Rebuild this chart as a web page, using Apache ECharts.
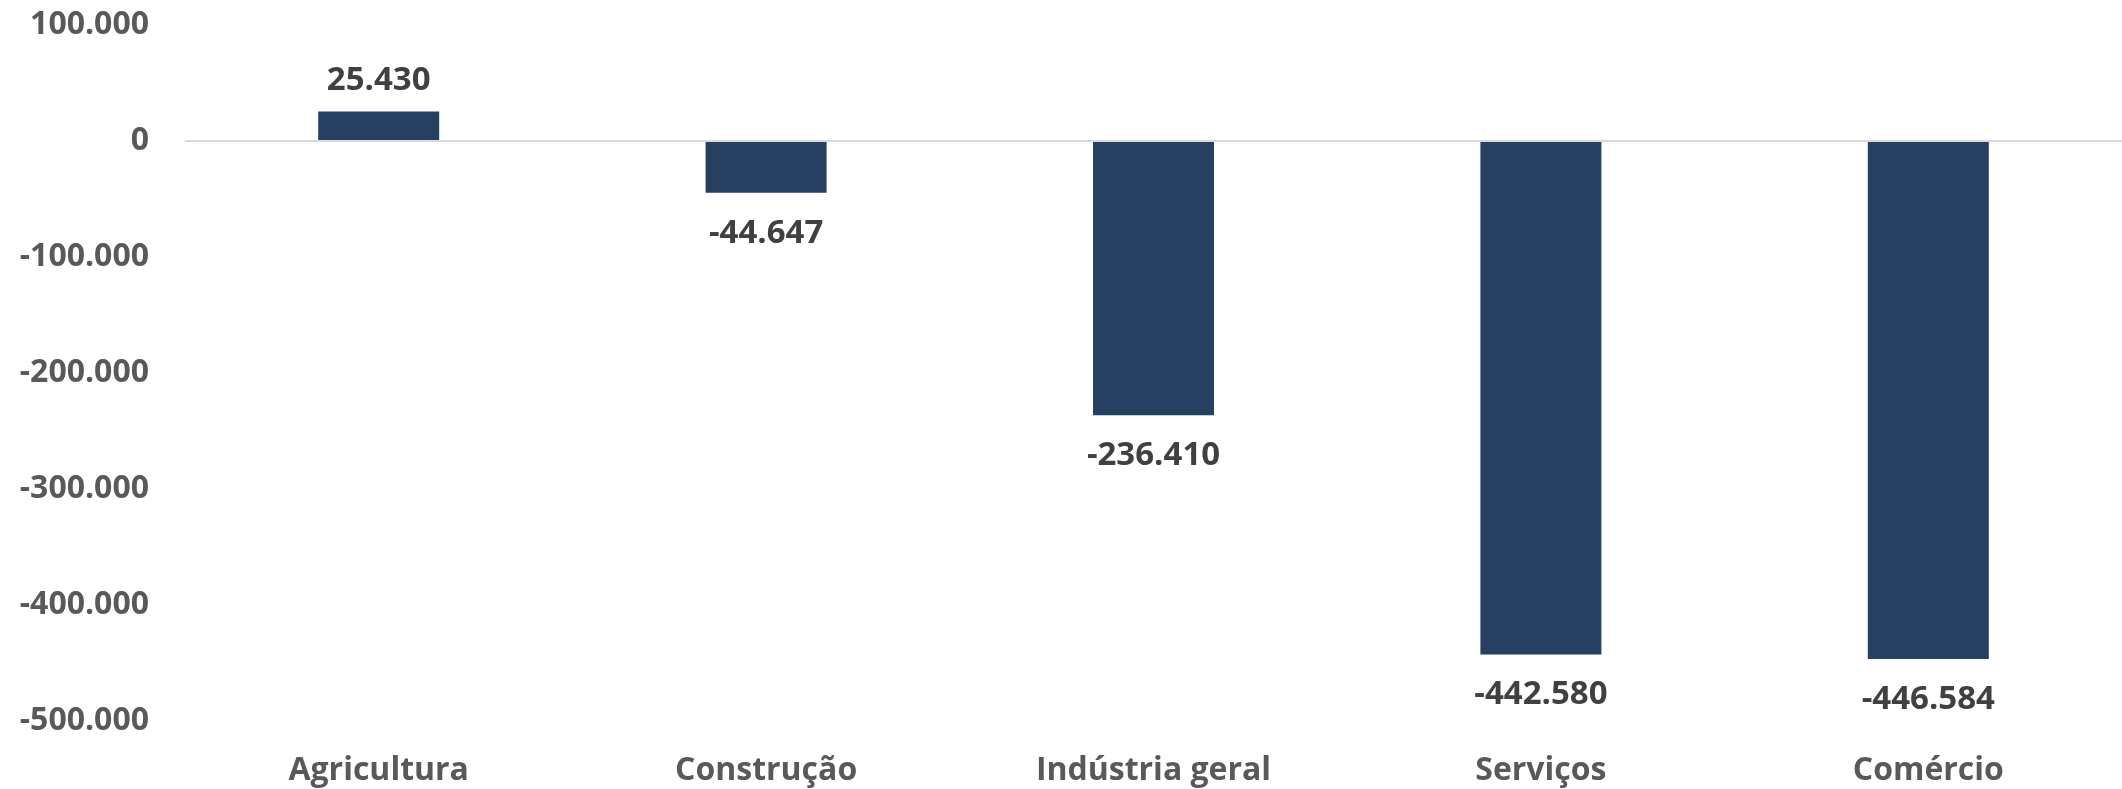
<!DOCTYPE html>
<html>
<head>
<meta charset="utf-8">
<script src="https://cdn.jsdelivr.net/npm/echarts@6/dist/echarts.min.js"></script>
<style>
html,body{margin:0;padding:0;background:#fff;}
#chart{width:2122px;height:789px;}
</style>
</head>
<body>
<div id="chart"></div>
<script>
const categories = ['Agricultura', 'Construção', 'Indústria geral', 'Serviços', 'Comércio'];
const values = [25430, -44647, -236410, -442580, -446584];
const yMin = -500000;
const yMax = 100000;
const yStep = 100000;

function fmt(v) {
  const s = Math.abs(Math.round(v)).toString().replace(/\B(?=(\d{3})+(?!\d))/g, '.');
  return (v < 0 ? '-' : '') + s;
}

const FONT = 'Open Sans';
const chart = echarts.init(document.getElementById('chart'));
chart.setOption({
  animation: false,
  backgroundColor: '#ffffff',
  grid: { left: 185, right: 0, top: 25, bottom: 68, containLabel: false },
  xAxis: {
    type: 'category',
    data: categories,
    axisLine: { show: false, onZero: false },
    axisTick: { show: false },
    axisLabel: {
      color: '#595959', fontFamily: FONT, fontWeight: 'bold', fontSize: 32, margin: 34
    }
  },
  yAxis: {
    type: 'value',
    min: yMin, max: yMax, interval: yStep,
    axisLine: { show: false },
    axisTick: { show: false },
    splitLine: { show: false },
    axisLabel: {
      color: '#595959', fontFamily: FONT, fontWeight: 'bold', fontSize: 32, margin: 36,
      formatter: v => fmt(v)
    }
  },
  series: [{
    type: 'bar',
    barWidth: 121,
    itemStyle: { color: '#264061' },
    data: values.map(v => ({
      value: v,
      label: { position: v >= 0 ? 'top' : 'bottom', distance: v >= 0 ? 14 : 24 }
    })),
    label: {
      show: true,
      color: '#404040', fontFamily: FONT, fontWeight: 'bold', fontSize: 33,
      formatter: p => fmt(p.value)
    },
    markLine: {
      silent: true,
      symbol: 'none',
      label: { show: false },
      lineStyle: { color: '#D9D9D9', width: 2, type: 'solid' },
      data: [{ yAxis: 0 }]
    },
    z: 3
  }]
});
</script>
</body>
</html>
